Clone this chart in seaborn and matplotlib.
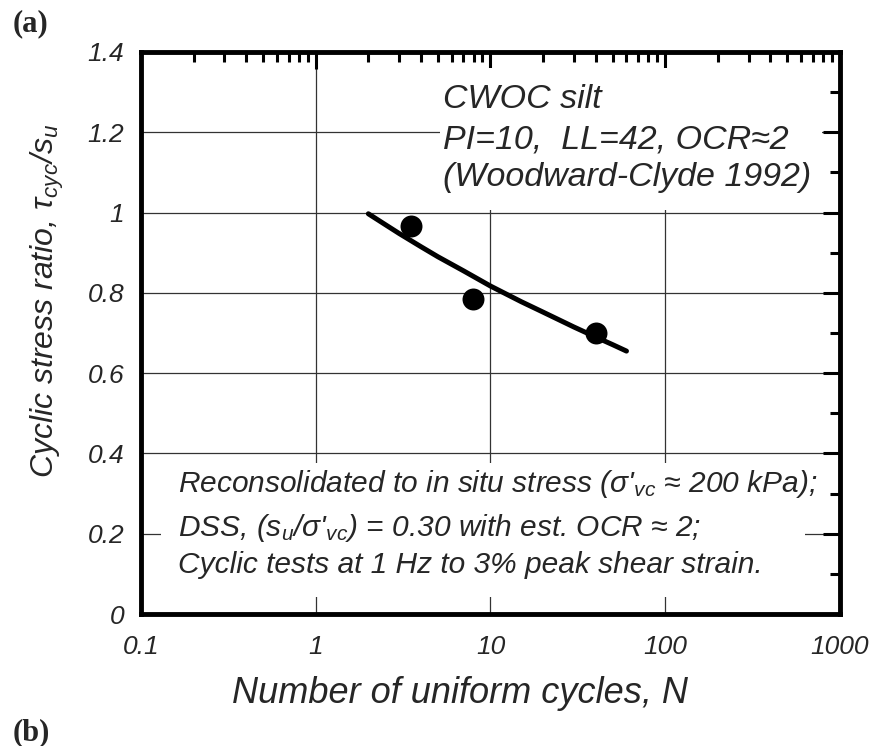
import numpy as np
import pandas as pd
import seaborn as sns
import matplotlib.pyplot as plt
from matplotlib.ticker import LogLocator, FixedLocator, NullFormatter, FuncFormatter

# test results (number of cycles to 3% strain vs CSR)
test_cycles = [3.5, 7.9, 40.0]
test_csr = [0.967, 0.785, 0.700]

# fitted trend curve
curve_cycles = [2, 2.5, 3, 4, 5, 7, 10, 15, 20, 30, 40, 50, 60]
curve_csr = [0.997, 0.970, 0.948, 0.915, 0.890, 0.855, 0.817, 0.778, 0.752, 0.715, 0.690, 0.671, 0.655]

x_ticks = [0.1, 1, 10, 100, 1000]
x_tick_labels = ['0.1', '1', '10', '100', '1000']
y_ticks = [0, 0.2, 0.4, 0.6, 0.8, 1.0, 1.2, 1.4]
y_tick_labels = ['0', '0.2', '0.4', '0.6', '0.8', '1', '1.2', '1.4']

sns.set_theme(style='white')
plt.rcParams['font.family'] = ['Liberation Sans', 'DejaVu Sans']
plt.rcParams['font.style'] = 'italic'
plt.rcParams['mathtext.fontset'] = 'custom'
plt.rcParams['mathtext.it'] = 'Liberation Sans:italic'
plt.rcParams['mathtext.rm'] = 'Liberation Sans:italic'
plt.rcParams['mathtext.default'] = 'it'

fig = plt.figure(figsize=(8.78, 7.46), dpi=100)
ax = fig.add_axes([0.1606, 0.1769, 0.7961, 0.7534])

tests = pd.DataFrame({'N': test_cycles, 'csr': test_csr})
curve = pd.DataFrame({'N': curve_cycles, 'csr': curve_csr})

sns.lineplot(data=curve, x='N', y='csr', ax=ax, color='black', lw=3.6,
             solid_capstyle='round', zorder=4)
sns.scatterplot(data=tests, x='N', y='csr', ax=ax, color='black', s=250,
                edgecolor='black', linewidth=0, zorder=5)

ax.set_xscale('log')
ax.set_xlim(0.1, 1000)
ax.set_ylim(0, 1.4)

ax.xaxis.set_major_locator(FixedLocator(x_ticks))
ax.xaxis.set_major_formatter(FuncFormatter(lambda v, p: x_tick_labels[x_ticks.index(v)] if v in x_ticks else ''))
ax.xaxis.set_minor_locator(LogLocator(base=10, subs=np.arange(2, 10)))
ax.xaxis.set_minor_formatter(NullFormatter())
ax.set_yticks(y_ticks)
ax.set_yticklabels(y_tick_labels)
ax.set_yticks(np.arange(0.1, 1.4, 0.2), minor=True)

ax.set_axisbelow(True)
ax.grid(True, which='major', color='#333333', lw=0.9)
ax.tick_params(which='both', direction='in', top=True, right=True,
               color='black', width=2.2)
ax.tick_params(which='major', length=12)
ax.tick_params(which='minor', length=7)
ax.tick_params(axis='x', which='major', pad=15, labelsize=19)
ax.tick_params(axis='y', which='major', pad=12, labelsize=19)
for lab in ax.get_xticklabels() + ax.get_yticklabels():
    lab.set_fontstyle('italic')

for s in ax.spines.values():
    s.set_visible(True)
    s.set_linewidth(3.5)
    s.set_color('black')
    s.set_zorder(6)

ax.set_xlabel('Number of uniform cycles, N', fontsize=26)
ax.set_ylabel("Cyclic stress ratio, τ$_{cyc}$/s$_u$", fontsize=23)
ax.xaxis.set_label_coords(0.456, -0.110)
ax.yaxis.set_label_coords(-0.108, 0.557)

# white masks behind the annotations (hide the grid)
ax.add_patch(plt.Rectangle((0.428, 0.719), 0.546, 0.252, transform=ax.transAxes,
                           facecolor='white', edgecolor='none', zorder=1))
ax.add_patch(plt.Rectangle((0.028, 0.030), 0.922, 0.239, transform=ax.transAxes,
                           facecolor='white', edgecolor='none', zorder=1))

top_lines = ['CWOC silt', 'PI=10,  LL=42, OCR≈2', '(Woodward-Clyde 1992)']
for txt, yy in zip(top_lines, [0.900, 0.829, 0.762]):
    ax.text(0.432, yy, txt, transform=ax.transAxes, fontsize=24.5,
            va='baseline', ha='left', zorder=3)

bottom_lines = ["Reconsolidated to in situ stress (σ'$_{vc}$ ≈ 200 kPa);",
                "DSS, (s$_u$/σ'$_{vc}$) = 0.30 with est. OCR ≈ 2;",
                "Cyclic tests at 1 Hz to 3% peak shear strain."]
for txt, yy in zip(bottom_lines, [0.217, 0.139, 0.073]):
    ax.text(0.053, yy, txt, transform=ax.transAxes, fontsize=21.5,
            va='baseline', ha='left', zorder=3)

fig.text(0.014, 0.987, '(a)', fontsize=22, fontweight='bold', fontstyle='normal',
         family='Liberation Serif', va='top', ha='left')
fig.text(0.014, 0.037, '(b)', fontsize=22, fontweight='bold', fontstyle='normal',
         family='Liberation Serif', va='top', ha='left')

fig.savefig('out.png', dpi=100)
